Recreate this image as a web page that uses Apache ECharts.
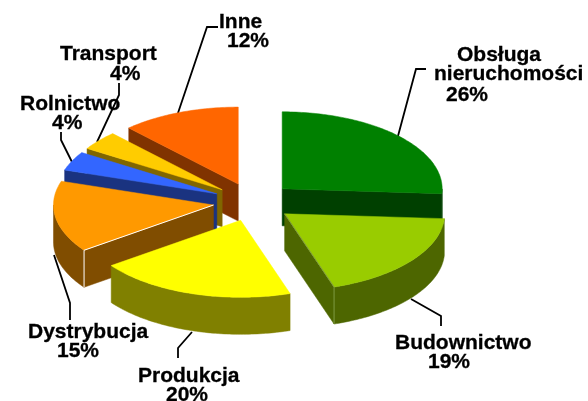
<!DOCTYPE html>
<html>
<head>
<meta charset="utf-8">
<style>html,body{margin:0;padding:0;background:#fff}#c{width:588px;height:401px}</style>
<script src="https://cdn.jsdelivr.net/npm/echarts@6/dist/echarts.min.js"></script>
</head>
<body>
<div id="c"></div>
<script>
// Data
var categories = ['Obsługa nieruchomości', 'Budownictwo', 'Produkcja', 'Dystrybucja', 'Rolnictwo', 'Transport', 'Inne'];
var values = [26, 19, 20, 15, 4, 4, 12];
var topColors = ['#008000', '#99CC00', '#FFFF00', '#FF9900', '#3366FF', '#FFCC00', '#FF6600'];
var sideColors = ['#004000', '#4D6600', '#808000', '#804D00', '#1A3380', '#806600', '#803300'];
var edgeColors = [null, '#7F9940', null, '#FFFFFF', null, null, null];
var drawOrder = [6, 5, 4, 3, 0, 1, 2];

// Projection of the tilted pie
var cx = 253, cy = 202, rx = 160, ry = 77, depth = 37, explode = 40;

// Label placement: [left x, centre y] for every text line, name lines then percent
var labelLines = [
  [['Obsługa', 457, 55], ['nieruchomości', 434, 74], [null, 446, 95]],
  [['Budownictwo', 395, 343], [null, 428, 362]],
  [['Produkcja', 138, 376], [null, 166, 395]],
  [['Dystrybucja', 28, 332], [null, 57, 351]],
  [['Rolnictwo', 20, 104], [null, 52, 123]],
  [['Transport', 60, 54], [null, 110, 74]],
  [['Inne', 219, 22], [null, 227, 41]]
];
var leaders = [
  [[398, 136], [416, 69], [426, 69]],
  [[411, 299], [441, 316], [441, 326]],
  [[192, 332], [178, 348], [178, 358]],
  [[54, 255], [70, 303], [70, 320]],
  [[72, 162], [61, 140], [61, 132]],
  [[97, 142], [119, 95], [119, 83]],
  [[178, 113], [207, 27], [218, 27]]
];

var total = values.reduce(function (a, b) { return a + b; }, 0);
var starts = [];
values.reduce(function (acc, v, i) { starts[i] = acc; return acc + v; }, 0);

function rad(d) { return d * Math.PI / 180; }

function renderSlice(params, api) {
  var i = api.value(0);
  var a = starts[i] / total * 360;
  var b = (starts[i] + values[i]) / total * 360;
  var mid = rad((a + b) / 2);
  var ox = cx + explode * Math.sin(mid);
  var oy = cy - explode * (ry / rx) * Math.cos(mid);
  function pt(deg, drop) {
    return [ox + rx * Math.sin(rad(deg)), oy - ry * Math.cos(rad(deg)) + (drop || 0)];
  }
  function arc(from, to) {
    var out = [], n = Math.max(2, Math.ceil(Math.abs(to - from)));
    for (var k = 0; k <= n; k++) out.push(pt(from + (to - from) * k / n));
    return out;
  }
  function poly(points, fill, stroke) {
    return {
      type: 'polygon', shape: { points: points }, silent: true,
      style: { fill: fill, stroke: stroke || fill, lineWidth: 0.5 }
    };
  }
  var apex = [ox, oy];
  var side = sideColors[i];
  var children = [];
  var corners = [];
  function wall(deg) {
    var p = pt(deg);
    children.push(poly([apex, p, [p[0], p[1] + depth], [ox, oy + depth]], side));
    corners.push(p);
  }
  if (a >= 180 && a < 360) wall(a);
  if (b > 0 && b < 180) wall(b);
  var from = Math.max(a, 90), to = Math.min(b, 270);
  if (to > from) {
    var upper = arc(from, to);
    var lower = upper.map(function (p) { return [p[0], p[1] + depth]; }).reverse();
    children.push(poly(upper.concat(lower), side));
  }
  children.push(poly([apex].concat(arc(a, b)), topColors[i]));
  if (edgeColors[i]) {
    corners.forEach(function (p) {
      children.push({
        type: 'polyline', silent: true,
        shape: { points: [apex, p, [p[0], p[1] + depth]] },
        style: { stroke: edgeColors[i], lineWidth: 1, fill: null }
      });
    });
  }
  return { type: 'group', children: children };
}

var graphics = [];
leaders.forEach(function (pts) {
  graphics.push({
    type: 'polyline', silent: true, z: 1,
    shape: { points: pts },
    style: { stroke: '#000', lineWidth: 1.8, fill: null }
  });
});
labelLines.forEach(function (lines, i) {
  lines.forEach(function (l) {
    graphics.push({
      type: 'text', silent: true, z: 10, x: l[1], y: l[2],
      style: {
        text: l[0] === null ? Math.round(values[i] / total * 100) + '%' : l[0],
        fill: '#000', font: 'bold 21px "Liberation Sans", Arial, sans-serif',
        stroke: '#000', lineWidth: 0.3,
        textAlign: 'left', textVerticalAlign: 'middle'
      }
    });
  });
});

var chart = echarts.init(document.getElementById('c'), null, { renderer: 'canvas' });
chart.setOption({
  animation: false,
  backgroundColor: '#fff',
  graphic: { elements: graphics },
  series: [{
    type: 'custom',
    coordinateSystem: 'none',
    renderItem: renderSlice,
    z: 5,
    silent: true,
    data: drawOrder.map(function (i) { return [i, categories[i], values[i]]; })
  }]
});
</script>
</body>
</html>
